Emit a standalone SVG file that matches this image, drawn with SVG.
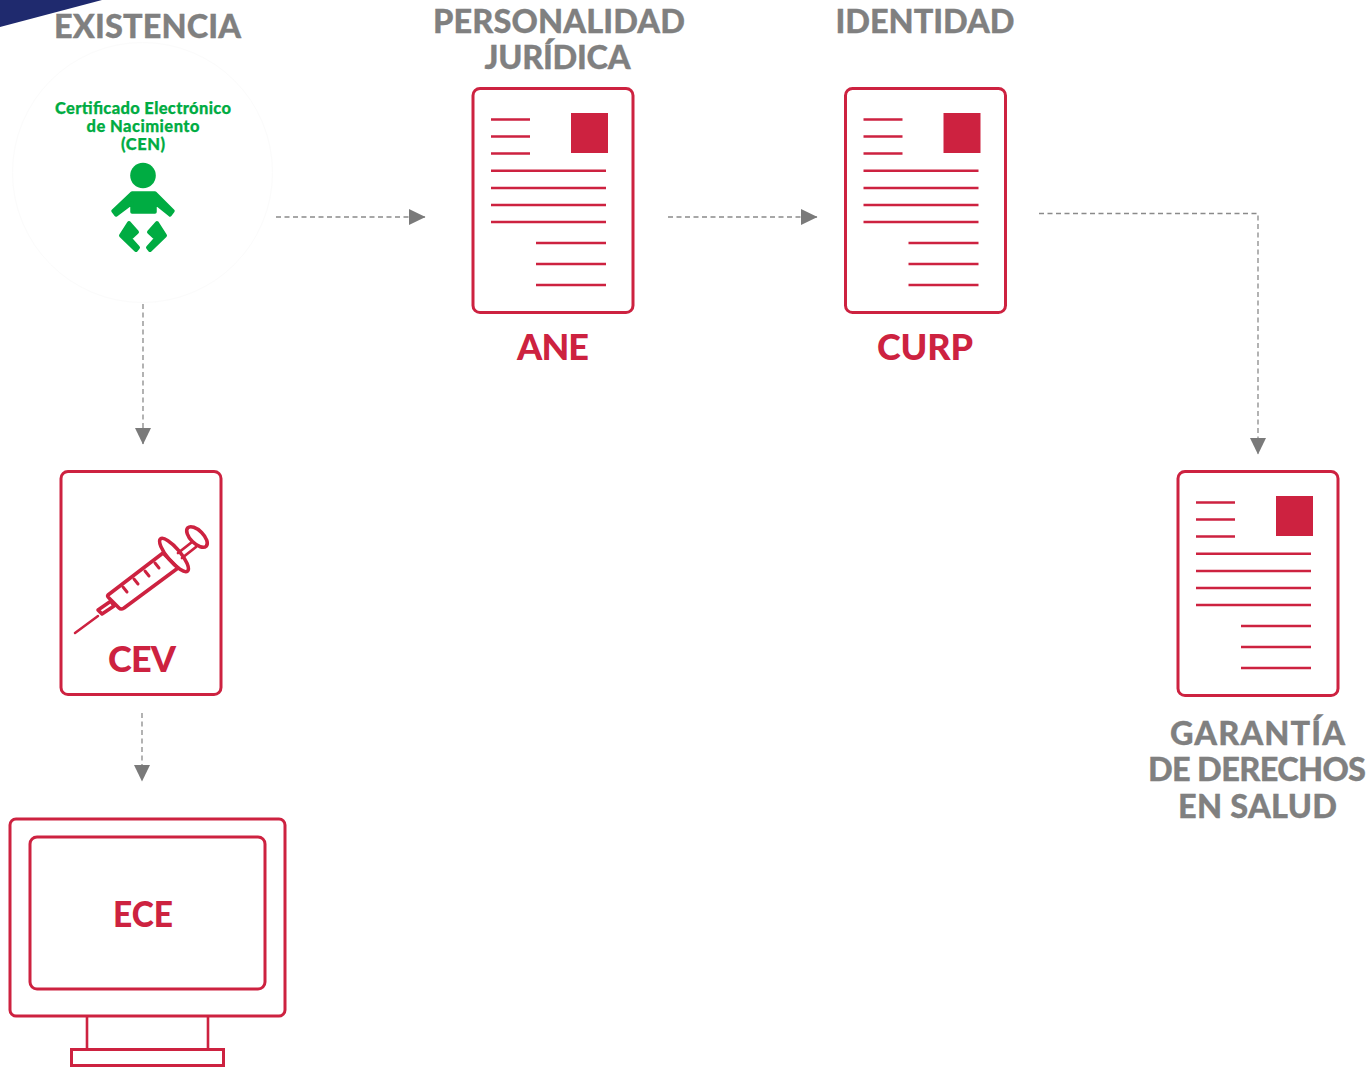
<svg xmlns="http://www.w3.org/2000/svg" width="1371" height="1069" viewBox="0 0 1371 1069">
<style>
text{font-family:"Lato","Open Sans","Liberation Sans",sans-serif;font-weight:900;text-anchor:middle}
.g{fill:#808080;font-size:32.500px;stroke:#808080;stroke-width:.3}
.r{fill:#cd2240;font-size:36px}
.n{fill:#00ac42;font-size:16.500px;stroke:#00ac42;stroke-width:.25}
.o{fill:none;stroke:#cd2240;stroke-width:3}
.l{fill:none;stroke:#cd2240;stroke-width:2.600}
.c{fill:none;stroke:#8a8a8a;stroke-width:1.300;stroke-dasharray:5 3.500}
.b{fill:#00ac42;stroke:#00ac42;stroke-linejoin:round}
</style>
<defs>
<marker id="a" markerUnits="userSpaceOnUse" markerWidth="17" markerHeight="16" refX="16" refY="8" orient="auto"><path d="M0 0L16.500 8L0 16Z" fill="#7a7a7a"/></marker>
<g id="doc">
<rect class="o" x="473" y="88.500" width="160" height="224" rx="7"/>
<rect x="571" y="113" width="37" height="40" fill="#cd2240"/>
<path class="l" d="M491 119.500H530M491 136.500H530M491 153.500H530M491 170.800H606M491 188H606M491 205H606M491 222H606M536 243H606M536 264H606M536 285H606"/>
</g>
</defs>
<rect width="1371" height="1069" fill="#fff"/>
<path d="M0 0H102L0 27Z" fill="#1f2a6e"/>
<g id="connectors">
<path class="c" d="M276 217H425" marker-end="url(#a)"/>
<path class="c" d="M668 217H817" marker-end="url(#a)"/>
<path class="c" d="M1039 213.500H1258V454" marker-end="url(#a)"/>
<path class="c" d="M143 304V444" marker-end="url(#a)"/>
<path class="c" d="M142 713V781" marker-end="url(#a)"/>
</g>
<g id="existencia">
<text class="g" x="147.500" y="38" textLength="187">EXISTENCIA</text>
<circle cx="142.500" cy="172.500" r="130" fill="none" stroke="#fbfbfb"/>
<text class="n" x="143" y="113.500" textLength="176">Certificado Electrónico</text>
<text class="n" x="143" y="131.500" textLength="113">de Nacimiento</text>
<text class="n" x="143" y="149.500" textLength="44">(CEN)</text>
<circle class="b" style="stroke:none" cx="143" cy="175.500" r="12.800"/>
<path class="b" stroke-width="3.500" d="M132 193H155L173 211L170 215L155 203V212H132V203L116 215L113 211Z"/>
<path class="b" stroke-width="4" d="M129 223L137 232L130 238.500L138 247.500L136 250L121 235.500ZM157 223L165 235.500L150 250L148 247.500L156 238.500L149 232Z"/>
</g>
<g id="ane">
<text class="g" x="559" y="33" textLength="252">PERSONALIDAD</text>
<text class="g" x="557.500" y="69" textLength="146">JURÍDICA</text>
<use href="#doc"/>
<text class="r" x="553" y="360" textLength="72">ANE</text>
</g>
<g id="curp">
<text class="g" x="925" y="33" textLength="179">IDENTIDAD</text>
<use href="#doc" x="372.500"/>
<text class="r" x="925" y="360" textLength="96">CURP</text>
</g>
<g id="garantia">
<use href="#doc" x="705" y="383"/>
<text class="g" x="1257.500" y="745" textLength="175">GARANTÍA</text>
<text class="g" x="1257" y="781" textLength="218">DE DERECHOS</text>
<text class="g" x="1257.500" y="818" textLength="159">EN SALUD</text>
</g>
<g id="cev">
<rect class="o" x="61" y="471.500" width="160" height="223" rx="7"/>
<g fill="none" stroke="#cd2240" stroke-linecap="round" stroke-linejoin="round">
<path stroke-width="2.500" d="M75 633L98 616"/>
<path stroke-width="3.600" d="M98 610L111 601L114 606L102 614ZM108 595L163 553L178 568L124 608Q121 610 119 608L109 598Q107 596 108 595Z"/>
<path stroke-width="3" d="M123 587L127 592M134 579L138 584M145 571L149 576M155 563L159 568"/>
<ellipse stroke-width="3.600" cx="174" cy="555" rx="21" ry="6.500" transform="rotate(50 174 555)"/>
<path stroke-width="2.800" d="M178 553L192 542M182 558L196 547"/>
<ellipse stroke-width="3.600" cx="197" cy="537" rx="13" ry="6.500" transform="rotate(45 197 537)"/>
</g>
<text class="r" x="142" y="671.500" textLength="68">CEV</text>
</g>
<g id="ece">
<rect class="o" x="10" y="819" width="275" height="197" rx="6" stroke-width="2.500"/>
<rect class="o" x="30" y="837" width="235" height="152" rx="7"/>
<path class="l" d="M87 1016V1049M208 1016V1049"/>
<rect class="o" x="71.500" y="1049.500" width="152" height="16"/>
<text class="r" x="143" y="927" textLength="60" lengthAdjust="spacingAndGlyphs">ECE</text>
</g>
</svg>
